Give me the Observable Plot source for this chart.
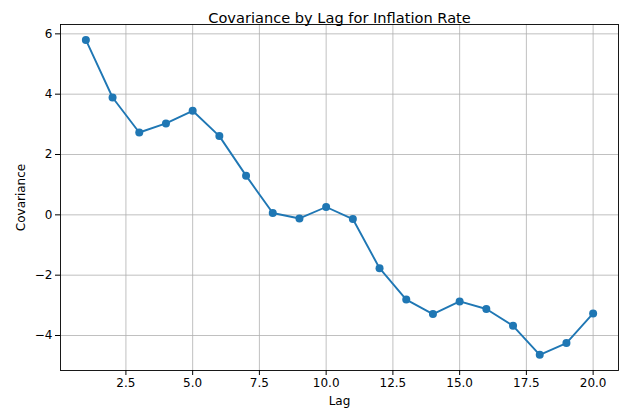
<!DOCTYPE html>
<html>
<head>
<meta charset="utf-8">
<script src="https://cdn.jsdelivr.net/npm/d3@7"></script>
<script src="https://cdn.jsdelivr.net/npm/@observablehq/plot@0.6"></script>
<style>
  html, body { margin: 0; padding: 0; background: #fff; }
  #chart svg { display: block; }
</style>
</head>
<body>
<div id="chart"></div>
<script>
const lags = [1,2,3,4,5,6,7,8,9,10,11,12,13,14,15,16,17,18,19,20];
const covariance = [5.80,3.89,2.73,3.03,3.45,2.61,1.30,0.06,-0.12,0.26,-0.14,-1.77,-2.81,-3.29,-2.87,-3.12,-3.68,-4.64,-4.25,-3.27];
const xTicks = [2.5,5,7.5,10,12.5,15,17.5,20];
const yTicks = [-4,-2,0,2,4,6];
const title = "Covariance by Lag for Inflation Rate";

const data = lags.map((lag, i) => ({lag, cov: covariance[i]}));
const font = "DejaVu Sans";

const chart = Plot.plot({
  width: 641,
  height: 416,
  marginLeft: 60,
  marginRight: 23,
  marginTop: 24,
  marginBottom: 46,
  style: {fontFamily: font, fontSize: "12px", color: "#000", background: "#fff"},
  x: {domain: [0.05, 20.95]},
  y: {domain: [-5.16, 6.31]},
  marks: [
    Plot.gridX(xTicks, {stroke: "#b0b0b0", strokeOpacity: 1, strokeWidth: 0.8}),
    Plot.gridY(yTicks, {stroke: "#b0b0b0", strokeOpacity: 1, strokeWidth: 0.8}),
    Plot.axisX(xTicks, {tickSize: 5, tickPadding: 3, tickFormat: d3.format(".1f"), fontSize: 12,
      label: "Lag", labelAnchor: "center", labelArrow: "none", labelOffset: 34}),
    Plot.axisY(yTicks, {tickSize: 5, tickPadding: 3, tickFormat: d3.format("d"), fontSize: 12,
      label: "Covariance", labelAnchor: "center", labelArrow: "none", labelOffset: 44}),
    Plot.line(data, {x: "lag", y: "cov", stroke: "#1f77b4", strokeWidth: 1.9}),
    Plot.dot(data, {x: "lag", y: "cov", fill: "#1f77b4", r: 4}),
    Plot.frame({stroke: "#000", strokeWidth: 0.9}),
    Plot.text([title], {frameAnchor: "top", dy: -12, fontSize: 14.6, fill: "#000", fontFamily: font})
  ]
});
document.getElementById("chart").appendChild(chart);
</script>
</body>
</html>
